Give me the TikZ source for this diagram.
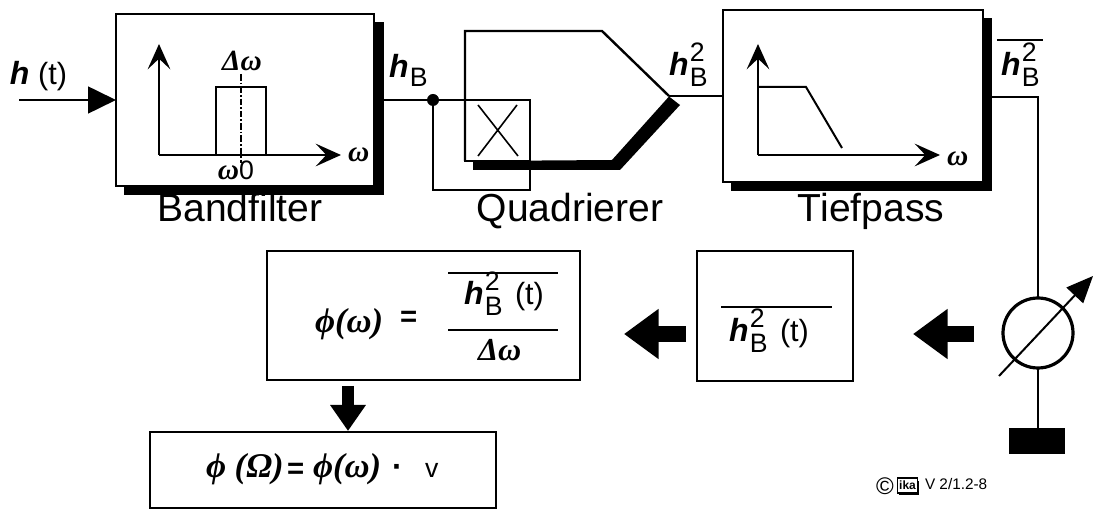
\documentclass[tikz,border=0pt]{standalone}
\usepackage{fontspec}
\setmainfont{Liberation Sans}
\newfontfamily\gkfont{Liberation Serif}
\usetikzlibrary{arrows.meta}
\newcommand\fs[1]{\fontsize{#1}{#1}\selectfont}
\newcommand\hf{\fs{24}\bfseries\itshape}
\newcommand\sbf{\fs{20}\normalfont}
\newcommand\gk[1]{{\gkfont\bfseries\itshape #1}}
\newcommand\hsq{{\hf h}\kern1pt\rlap{\raisebox{10.5pt}{\sbf 2}}\raisebox{-8.25pt}{\sbf B}}
\def\px{0.75pt}
\tikzset{
  x=0.75pt,y=-0.75pt,
  wire/.style={draw=black,line width=1.8pt},
  thinwire/.style={draw=black,line width=1.2pt},
  boxnode/.style={draw=black,fill=white,line width=1.6pt,inner sep=0pt,outer sep=0pt},
  framenode/.style={draw=black,line width=1.7pt,inner sep=0pt,outer sep=0pt},
  shadow/.style={fill=black,draw=none},
  txt/.style={inner sep=0pt,outer sep=0pt,anchor=base west,text=black},
  txtc/.style={inner sep=0pt,outer sep=0pt,anchor=base,text=black},
  axis/.style={draw=black,line width=1.4pt,-{Stealth[length=19pt,width=17pt,inset=8pt]}},
  fat/.style={draw=black,line width=12pt,-{Triangle[length=26pt,width=36pt]}},
  title/.style={txtc,font=\fs{29.3}},
}
\begin{document}
\begin{tikzpicture}
\useasboundingbox (0,0) rectangle (1093,509);

% Bandfilter
\fill[shadow] (124,22) rectangle (384,195);
\node[boxnode,minimum width=258*\px,minimum height=172*\px] (bf) at (245,100) {};
\coordinate (in) at (19,100);
\draw[wire,line width=2.1pt,-{Triangle[length=21pt,width=20pt]}] (in) -- (bf.west);
\coordinate (bfo) at (159,155);
\coordinate (bfy) at (159,44);
\coordinate (bfx) at (341,155);
\draw[axis] (bfo) -- (bfy);
\draw[axis] (bfo) -- (bfx);
\node[framenode,minimum width=50*\px,minimum height=68*\px] (pass) at (241,121) {};
\coordinate (dda) at (241,74);
\coordinate (ddb) at (241,163);
\draw[black,line width=1.4pt,dash pattern=on 5pt off 1.5pt on 1.2pt off 1.5pt] (dda) -- (ddb);
\node[txtc] (dw) at (242,71) {\fs{22}\gk{Δω}};
\node[txt] (wx) at (348,162) {\fs{22}\gk{ω}};
\node[txtc] (w0) at (236,180) {\fs{22}\gk{ω}{\fs{20}\normalfont 0}};
\node[title] (tbf) at (240,222) {Bandfilter};
\node[txt] (ht) at (10,85) {{\hf h}\fs{23}\normalfont\ (t)};
\node[txt] (hb) at (389,78) {{\hf h}\kern1pt\raisebox{-6.75pt}{\sbf B}};

% Quadrierer
\node[framenode,minimum width=65*\px,minimum height=61*\px] (sq) at (497.5,130.5) {};
\node[circle,fill=black,inner sep=0pt,minimum size=12*\px] (dot) at (433,100) {};
\draw[wire] (bf.east) -- (dot) -- (sq.north west);
\coordinate (loop) at (433,190);
\draw[wire] (dot) -- (loop) -| (sq.south east);
\draw[thinwire] (478,105) -- (518,156) (517,105) -- (478,156);
\coordinate (qa) at (465,31);
\coordinate (qb) at (602,31);
\coordinate (qtip) at (669,96);
\draw[wire] (sq.south west) -- (qa) -- (qb) -- (qtip);
\fill[shadow] (473,161) -- (612,160) -- (669,96.5) -- (680,105) -- (620,170) -- (473,170) -- cycle;
\node[title] (tq) at (570,222) {Quadrierer};
\node[txt] (hq) at (669,76) {\hsq};

% Tiefpass
\fill[shadow] (731,18) rectangle (992,191);
\node[boxnode,minimum width=260*\px,minimum height=172*\px] (tp) at (853,96) {};
\draw[wire] (qtip) -- (tp.west);
\coordinate (tpo) at (758,155);
\coordinate (tpy) at (758,44);
\coordinate (tpx) at (940,155);
\draw[axis] (tpo) -- (tpy);
\draw[axis] (tpo) -- (tpx);
\coordinate (la) at (758,87);
\coordinate (lb) at (806,87);
\coordinate (lc) at (842,148);
\draw[thinwire,line width=1.5pt] (la) -- (lb) -- (lc);
\node[txt] (wy) at (947,166) {\fs{22}\gk{ω}};
\node[title] (ttp) at (871,222) {Tiefpass};
\node[txt] (hr) at (1001,76) {\hsq};
\draw[black,line width=1.5pt] (997,40) -- (1043,40);

% Meter
\node[draw=black,line width=2.4pt,circle,inner sep=0pt,outer sep=0pt,minimum size=70*\px] (m) at (1038,333) {};
\draw[wire] (tp.east) |- (992,97) -| (m.north);
\node[fill=black,inner sep=0pt,outer sep=0pt,minimum width=56*\px,minimum height=26*\px] (gnd) at (1037,441) {};
\draw[wire] (m.south) -- (1038,428);
\coordinate (da) at (999,376);
\coordinate (db) at (1093,276);
\draw[black,line width=1.5pt,-{Triangle[length=20pt,width=17pt]}] (da) -- (db);

% Mean box
\node[framenode,minimum width=156*\px,minimum height=130*\px] (mean) at (775,316) {};
\draw[black,line width=1.5pt] (721,307) -- (832,307);
\node[txt] (hm) at (729,342) {\hsq\kern9.25pt\fs{23}\normalfont(t)};
\coordinate (fa) at (974,334);
\coordinate (fb) at (913,334);
\draw[fat] (fa) -- (fb);
\coordinate (fc) at (686,334);
\coordinate (fd) at (624,334);
\draw[fat] (fc) -- (fd);

% Formula box
\node[framenode,minimum width=313*\px,minimum height=129*\px] (form) at (423.5,315.5) {};
\node[txt] (phi) at (315,333) {\fs{26}\gk{ϕ(ω)}};
\node[txt] (eq) at (400,327) {\fs{22}\bfseries =};
\draw[black,line width=1.5pt] (448,273) -- (558,273);
\draw[black,line width=1.5pt] (448,330) -- (558,330);
\node[txt] (hn) at (464,305) {\hsq\kern9.25pt\fs{23}\normalfont(t)};
\node[txt] (dn) at (478,361) {\fs{24}\gk{Δω}};

% Result box
\coordinate (ga) at (348,386);
\coordinate (gb) at (348,431);
\draw[draw=black,line width=9pt,-{Triangle[length=19.5pt,width=25.5pt]}] (ga) -- (gb);
\node[framenode,minimum width=346*\px,minimum height=76*\px] (res) at (323,470) {};
\node[txt] (rf) at (206,478) {\fs{26}\gk{ϕ (Ω)}};
\node[txt] (re) at (287,479) {\fs{22}\bfseries =};
\node[txt] (rp) at (313,478) {\fs{26}\gk{ϕ(ω)}};
\node[txt] (rd) at (392,478) {\fs{24}\bfseries ·};
\node[txt] (rv) at (425,478) {\fs{20}v};

% Credit
\node[txtc] (cc) at (885,495) {\fs{18}©};
\fill[shadow] (899,481) rectangle (919,495);
\node[draw=black,fill=white,line width=0.8pt,inner sep=0pt,minimum width=20*\px,minimum height=15*\px,font=\fs{9}\bfseries] (ika) at (907.5,485.5) {ika};
\node[txt] (ver) at (925,490) {\fs{11.5}V 2/1.2-8};
\end{tikzpicture}
\end{document}
